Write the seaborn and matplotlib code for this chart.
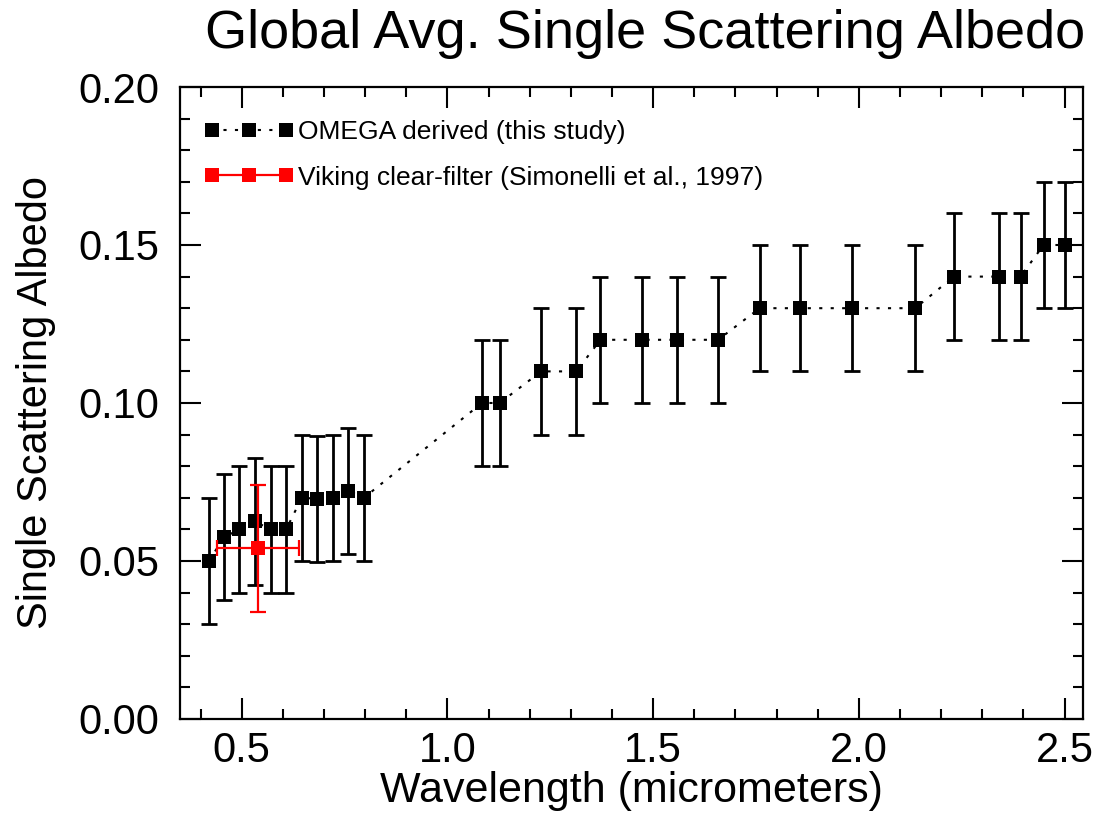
import numpy as np
import pandas as pd
import matplotlib
matplotlib.use("Agg")
import matplotlib.pyplot as plt
from matplotlib.ticker import MultipleLocator, FormatStrFormatter
import seaborn as sns

# ---- data ----
omega_wl = [0.420, 0.457, 0.494, 0.532, 0.570, 0.608, 0.646, 0.683, 0.721, 0.759, 0.797,
            1.084, 1.127, 1.228, 1.313, 1.372, 1.472, 1.558, 1.658,
            1.759, 1.857, 1.984, 2.137, 2.231, 2.341, 2.393, 2.449, 2.500]
omega_ssa = [0.050, 0.0575, 0.060, 0.0625, 0.060, 0.060, 0.070, 0.0697, 0.070, 0.0722, 0.070,
             0.100, 0.100, 0.110, 0.110, 0.120, 0.120, 0.120, 0.120,
             0.130, 0.130, 0.130, 0.130, 0.140, 0.140, 0.140, 0.150, 0.150]
omega_err = [0.02] * len(omega_wl)

viking_wl = [0.540]
viking_ssa = [0.054]
viking_xerr = [0.10]
viking_yerr = [0.02]

omega_label = "OMEGA derived (this study)"
viking_label = "Viking clear-filter (Simonelli et al., 1997)"
title = "Global Avg. Single Scattering Albedo"
xlabel = "Wavelength (micrometers)"
ylabel = "Single Scattering Albedo"

sns.set_theme(style="ticks")
plt.rcParams["font.family"] = ["Liberation Sans", "DejaVu Sans"]
plt.rcParams["text.color"] = "black"
plt.rcParams["axes.labelcolor"] = "black"
plt.rcParams["xtick.color"] = "black"
plt.rcParams["ytick.color"] = "black"
plt.rcParams["axes.linewidth"] = 1.6

fig = plt.figure(figsize=(11.01, 8.17), dpi=100)
ax = fig.add_axes([0.1635, 0.1200, 0.8202, 0.7735])

df_o = pd.DataFrame({"wl": omega_wl, "ssa": omega_ssa})
df_v = pd.DataFrame({"wl": viking_wl, "ssa": viking_ssa})

# error bars
ax.errorbar(omega_wl, omega_ssa, yerr=omega_err, fmt="none", ecolor="black",
            elinewidth=2.0, capsize=6, capthick=2.0, zorder=2)
ax.errorbar(viking_wl, viking_ssa, xerr=viking_xerr, yerr=viking_yerr, fmt="none",
            ecolor="red", elinewidth=1.6, capsize=6, capthick=1.6, zorder=4)

sns.lineplot(data=df_o, x="wl", y="ssa", ax=ax, color="black", marker="s",
             markersize=9.5, markeredgewidth=0, markeredgecolor="black",
             linewidth=1.5, linestyle=(0, (1.5, 4.0)), estimator=None, sort=False,
             label=omega_label, zorder=3)
sns.lineplot(data=df_v, x="wl", y="ssa", ax=ax, color="red", marker="s",
             markersize=10, markeredgewidth=0, markeredgecolor="red",
             linewidth=1.6, linestyle="-", estimator=None, sort=False,
             label=viking_label, zorder=5)

ax.set_xlim(0.35, 2.545)
ax.set_ylim(0.0, 0.20)
ax.xaxis.set_major_locator(MultipleLocator(0.5))
ax.xaxis.set_minor_locator(MultipleLocator(0.1))
ax.yaxis.set_major_locator(MultipleLocator(0.05))
ax.yaxis.set_minor_locator(MultipleLocator(0.01))
ax.xaxis.set_major_formatter(FormatStrFormatter("%.1f"))
ax.yaxis.set_major_formatter(FormatStrFormatter("%.2f"))

ax.tick_params(which="both", direction="in", top=True, right=True, width=1.5,
               colors="black", labelsize=30)
ax.tick_params(which="major", length=15)
ax.tick_params(which="minor", length=7.5)
ax.tick_params(axis="y", which="major", pad=15)
ax.tick_params(axis="x", which="major", pad=9)
for s in ax.spines.values():
    s.set_color("black")
    s.set_linewidth(1.6)

ax.set_xlabel(xlabel, fontsize=31, labelpad=0, color="black")
ax.set_ylabel(ylabel, fontsize=30, labelpad=16, color="black")

fig.text(645 / 1101, 1 - 48 / 817, title, fontsize=39, ha="center", va="baseline",
         color="black")

leg = ax.legend(loc="upper left", bbox_to_anchor=(0.027, 0.948), frameon=False,
                fontsize=19, numpoints=3, handlelength=3.4, handletextpad=0.15,
                labelspacing=0.82, borderaxespad=0, borderpad=0)
for t in leg.get_texts():
    t.set_color("black")

fig.savefig("out.png", dpi=100)
